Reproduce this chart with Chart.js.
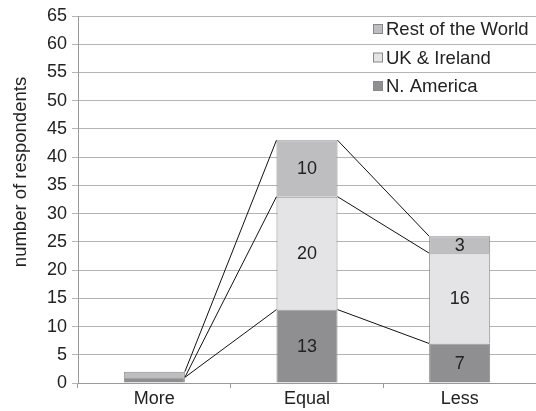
<!DOCTYPE html>
<html>
<head>
<meta charset="utf-8">
<script src="https://cdn.jsdelivr.net/npm/chart.js@4"></script>
<style>
  body { margin: 0; background: #fff; }
  #wrap { width: 536px; height: 411px; }
</style>
</head>
<body>
<div id="wrap"><canvas id="myChart"></canvas></div>
<script>
const categories = ['More', 'Equal', 'Less'];
const northAmerica = [1, 13, 7];
const ukIreland = [0, 20, 16];
const restOfWorld = [1, 10, 3];
const seriesNames = ['N. America', 'UK & Ireland', 'Rest of the World'];
const yTitle = 'number of respondents';

const FONT = '"Liberation Sans", Arial, sans-serif';

// series lines between the stacked bars (like Excel)
const seriesLines = {
    id: 'seriesLines',
    afterDatasetsDraw(chart) {
        const ctx = chart.ctx;
        ctx.save();
        ctx.strokeStyle = '#111';
        ctx.lineWidth = 1;
        chart.data.datasets.forEach((ds, s) => {
            const bars = chart.getDatasetMeta(s).data;
            for (let i = 0; i < bars.length - 1; i++) {
                const a = bars[i], b = bars[i + 1];
                ctx.beginPath();
                ctx.moveTo(a.x + a.width / 2, a.y);
                ctx.lineTo(b.x - b.width / 2, b.y);
                ctx.stroke();
            }
        });
        ctx.restore();
    }
};

// numbers inside the segments
const segmentLabels = {
    id: 'segmentLabels',
    afterDatasetsDraw(chart) {
        const ctx = chart.ctx;
        ctx.save();
        ctx.fillStyle = '#222';
        ctx.font = '18px ' + FONT;
        ctx.textAlign = 'center';
        ctx.textBaseline = 'middle';
        chart.data.datasets.forEach((ds, s) => {
            chart.getDatasetMeta(s).data.forEach((bar, i) => {
                if (Math.abs(bar.base - bar.y) < 14) return;
                ctx.fillText(ds.data[i], bar.x, (bar.y + bar.base) / 2 + 1);
            });
        });
        ctx.restore();
    }
};

// legend inside the plot, top right, reversed order; plus the y title
const innerLegend = {
    id: 'innerLegend',
    afterDraw(chart) {
        const ctx = chart.ctx;
        ctx.save();
        ctx.font = '18.5px ' + FONT;
        ctx.textBaseline = 'middle';
        const dsets = chart.data.datasets.slice().reverse();
        dsets.forEach((ds, k) => {
            const y = 29 + k * 28.5;
            const x = 373;
            ctx.fillStyle = ds.backgroundColor;
            ctx.strokeStyle = '#888';
            ctx.lineWidth = 1;
            ctx.fillRect(x + 0.5, y - 4.5, 9, 9);
            ctx.strokeRect(x + 0.5, y - 4.5, 9, 9);
            ctx.fillStyle = '#222';
            ctx.fillText(ds.label, x + 13, y + 1);
        });

        ctx.translate(21, 172);
        ctx.rotate(-Math.PI / 2);
        ctx.textAlign = 'center';
        ctx.font = '18.5px ' + FONT;
        ctx.fillText(yTitle, 0, 0);
        ctx.restore();
    }
};

new Chart(document.getElementById('myChart').getContext('2d'), {
    type: 'bar',
    data: {
        labels: categories,
        datasets: [
            { label: seriesNames[0], data: northAmerica, backgroundColor: '#8f8f91' },
            { label: seriesNames[1], data: ukIreland, backgroundColor: '#e4e4e6' },
            { label: seriesNames[2], data: restOfWorld, backgroundColor: '#bebec0' }
        ]
    },
    options: {
        responsive: true,
        maintainAspectRatio: false,
        animation: false,
        layout: { padding: { top: 16, right: 0, left: 0, bottom: 0 } },
        datasets: {
            bar: {
                borderColor: '#8a8a8a',
                borderWidth: 1,
                barPercentage: 0.4,
                categoryPercentage: 1.0
            }
        },
        plugins: {
            legend: { display: false },
            tooltip: { enabled: false }
        },
        scales: {
            x: {
                stacked: true,
                grid: { display: true, drawOnChartArea: false, offset: true, tickLength: 5, color: '#999' },
                border: { color: '#999' },
                ticks: { color: '#222', font: { size: 18, family: FONT }, padding: 0 },
                afterFit(scale) { scale.height = 28; }
            },
            y: {
                stacked: true,
                min: 0,
                max: 65,
                grid: { color: '#b4b4b4', tickLength: 6 },
                border: { color: '#999' },
                ticks: { stepSize: 5, color: '#222', font: { size: 18, family: FONT }, padding: 5 },
                afterFit(scale) { scale.width = 78; }
            }
        }
    },
    plugins: [seriesLines, segmentLabels, innerLegend]
});
</script>
</body>
</html>
